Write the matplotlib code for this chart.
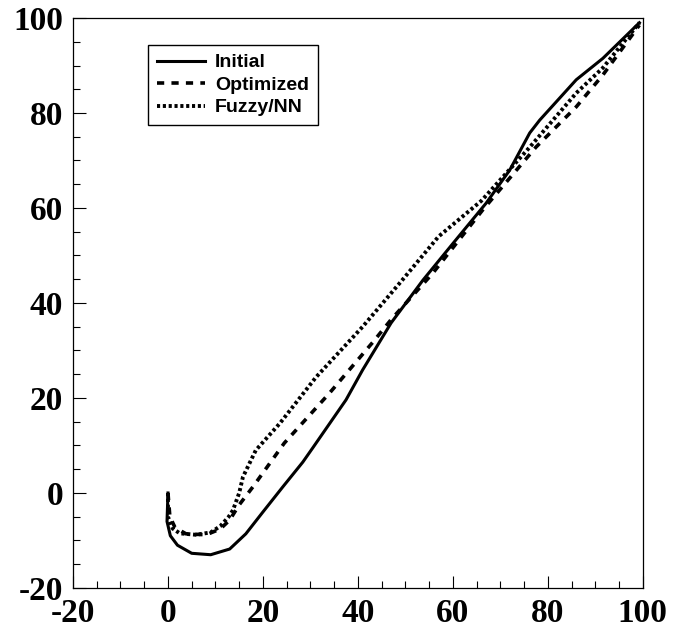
import numpy as np
import matplotlib.pyplot as plt
from matplotlib.ticker import MultipleLocator

# curves (x, y)
initial_x = [0, -0.2, 0.5, 2, 5, 9, 13, 16.4, 20, 24.2, 28.4, 30.5, 37.5, 41, 47,
             53.7, 60, 67, 72, 76.2, 78.3, 86, 91.6, 99.3]
initial_y = [0, -6, -9, -11, -12.7, -13, -11.8, -8.6, -4, 1.3, 6.5, 9.5, 19.6, 25.9, 35.8,
             44.8, 52.5, 61, 68, 75.8, 78.5, 87, 91.5, 99]

optimized_x = [0, 0.4, 1.5, 3.8, 8, 11, 13, 15, 17.9, 24.5, 34, 43.2, 47, 55.8, 66.3,
               77.5, 86, 91.6, 99.3]
optimized_y = [0, -5, -7.3, -8.6, -8.8, -7.6, -5.7, -2.5, 1.3, 10.5, 21, 31.8, 36.5,
               46.3, 59.6, 72.8, 81.3, 88, 98.5]

fuzzy_x = [0, 0, 1, 2.5, 5.9, 9, 11, 12.8, 13.7, 15, 15.8, 18.5, 23.6, 31.2, 41,
           49.5, 57, 66, 76.2, 86, 91.6, 99.3]
fuzzy_y = [0, -5, -7.5, -8.5, -8.8, -8.3, -7, -5, -3.6, 0, 3.4, 9, 14.7, 24.4, 35,
           45, 54, 61.5, 72.8, 84.2, 89.5, 99]

ticks = [-20, 0, 20, 40, 60, 80, 100]
tick_labels = ["-20", "0", "20", "40", "60", "80", "100"]

fig = plt.figure(figsize=(6.73, 6.34), dpi=100)
ax = fig.add_axes([0.1085, 0.0726, 0.8465, 0.899])

ax.plot(initial_x, initial_y, color="black", lw=2.2, ls="-", label="Initial")
ax.plot(optimized_x, optimized_y, color="black", lw=2.6, dashes=(2, 2), label="Optimized")
ax.plot(fuzzy_x, fuzzy_y, color="black", lw=2.8, dashes=(0.8, 0.7), label="Fuzzy/NN")

ax.set_xlim(-20, 100)
ax.set_ylim(-20, 100)
ax.set_xticks(ticks, tick_labels)
ax.set_yticks(ticks, tick_labels)
ax.xaxis.set_minor_locator(MultipleLocator(5))
ax.yaxis.set_minor_locator(MultipleLocator(5))
ax.tick_params(which="both", direction="in", top=False, right=False, width=0.8)
ax.tick_params(which="major", length=9, pad=7)
ax.tick_params(which="minor", length=5)

for lab in ax.get_xticklabels() + ax.get_yticklabels():
    lab.set_fontfamily("Liberation Serif")
    lab.set_fontweight("bold")
    lab.set_fontsize(24)

for sp in ax.spines.values():
    sp.set_linewidth(0.9)

leg = ax.legend(loc="upper left", bbox_to_anchor=(0.1316, 0.9526), borderaxespad=0,
                frameon=True, fancybox=False, edgecolor="black", framealpha=1,
                handlelength=2.5, labelspacing=0.25, handletextpad=0.5,
                borderpad=0.45,
                prop={"family": "Liberation Sans", "weight": "bold", "size": 14})
leg.get_frame().set_linewidth(1.0)

fig.savefig("out.png", dpi=100)
